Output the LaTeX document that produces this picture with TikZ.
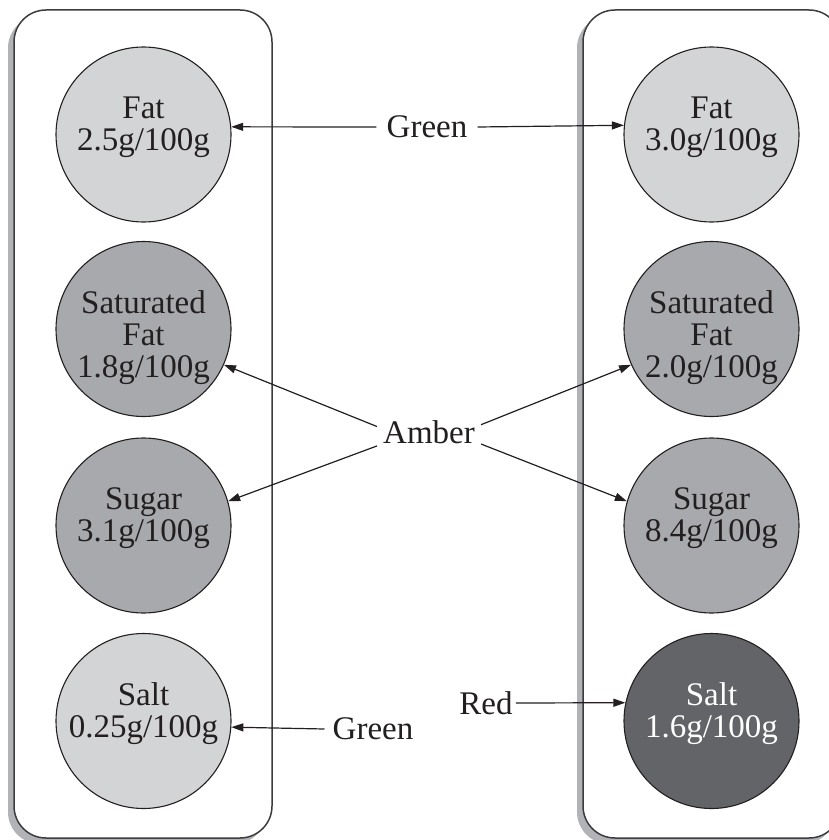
\documentclass[tikz,border=0pt]{standalone}
\usepackage{fontspec}
\setmainfont{Liberation Serif}
\usetikzlibrary{shadows,arrows.meta}
\definecolor{ink}{RGB}{35,31,32}
\definecolor{boxline}{RGB}{60,60,62}
\definecolor{shadowc}{RGB}{178,179,182}
\definecolor{lightc}{RGB}{211,212,214}
\definecolor{midc}{RGB}{167,169,172}
\definecolor{darkc}{RGB}{99,100,103}
\begin{document}
\begin{tikzpicture}[x=1pt,y=-1pt,
  panel/.style={draw=boxline,line width=1.5pt,fill=white,rounded corners=32pt,minimum width=258pt,minimum height=828pt,inner sep=0pt,drop shadow={shadow xshift=-6pt,shadow yshift=-6pt,fill=shadowc,opacity=1}},
  disc/.style={circle,draw=ink,line width=1.1pt,minimum size=175pt,inner sep=0pt},
  lbl/.style={font=\fontsize{33}{32}\selectfont,text=ink,align=center,inner sep=0pt},
  tag/.style={font=\fontsize{33}{32}\selectfont,text=ink,inner xsep=10pt,inner ysep=4pt},
  arr/.style={draw=ink,line width=1.2pt,-{Triangle[length=12pt,width=8pt]}}]
\useasboundingbox (0,0) rectangle (828,840);
% panels
\node[panel] (boxL) at (143,424) {};
\node[panel] (boxR) at (712,424) {};
% left discs
\node[disc,fill=lightc] (fatL) at (143.5,134.5) {};
\node[lbl] (fatLt) at (143.5,127) {Fat\\2.5g/100g};
\node[disc,fill=midc] (satL) at (143.5,329) {};
\node[lbl] (satLt) at (143.5,337.5) {Saturated\\Fat\\1.8g/100g};
\node[disc,fill=midc] (sugL) at (143.5,525.5) {};
\node[lbl] (sugLt) at (143.5,518) {Sugar\\3.1g/100g};
\node[disc,fill=lightc] (saltL) at (143.5,721) {};
\node[lbl] (saltLt) at (143.5,713.5) {Salt\\0.25g/100g};
% right discs
\node[disc,fill=lightc] (fatR) at (711.5,134.5) {};
\node[lbl] (fatRt) at (711.5,127) {Fat\\3.0g/100g};
\node[disc,fill=midc] (satR) at (711.5,329) {};
\node[lbl] (satRt) at (711.5,337.5) {Saturated\\Fat\\2.0g/100g};
\node[disc,fill=midc] (sugR) at (711.5,525.5) {};
\node[lbl] (sugRt) at (711.5,518) {Sugar\\8.4g/100g};
\node[disc,fill=darkc] (saltR) at (711.5,721) {};
\node[lbl,text=white] (saltRt) at (711.5,713.5) {Salt\\1.6g/100g};
% tags
\node[tag] (greenT) at (427,127) {Green};
\node[tag,inner xsep=6pt] (amber) at (429,432) {Amber};
\node[tag,inner xsep=8pt] (greenB) at (373,729) {Green};
\node[tag,inner xsep=3pt] (red) at (486,703) {Red};
% arrows
\draw[arr] (greenT.west) -- (fatL.5.2);
\draw[arr] (greenT.east) -- (fatR.174.8);
\draw[arr] (amber.174) -- (satL.-24);
\draw[arr] (amber.195) -- (sugL.16);
\draw[arr] (amber.8) -- (satR.204);
\draw[arr] (amber.-13) -- (sugR.164);
\draw[arr] (greenB.west) -- (saltL.-4.6);
\draw[arr] (red.east) -- (saltR.168.2);
\end{tikzpicture}
\end{document}
